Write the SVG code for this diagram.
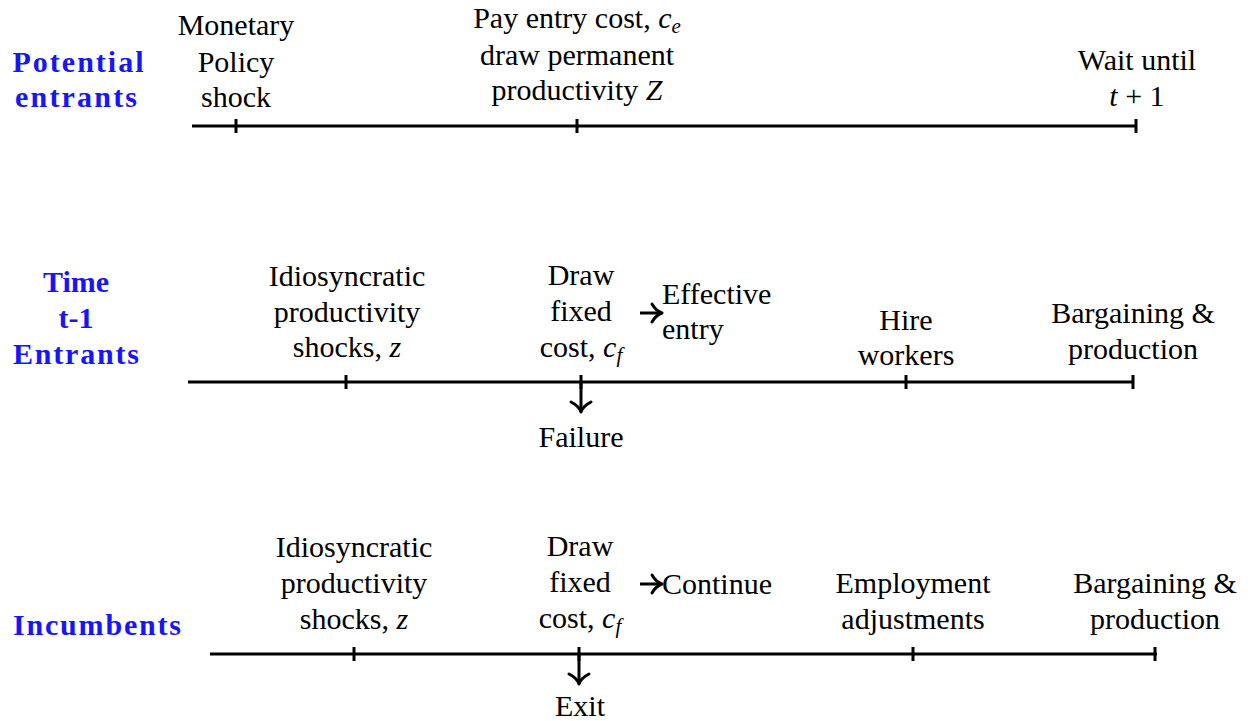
<svg xmlns="http://www.w3.org/2000/svg" width="1248" height="721" viewBox="0 0 1248 721">
<style>
.t{font-size:30px;fill:#000;text-anchor:middle}
.l{text-anchor:start}
.h{font-size:30px;font-weight:bold;fill:#1515ff;text-anchor:middle}
.i{font-style:italic}
.line{stroke:#000;stroke-width:3;fill:none}
.head{stroke:#000;stroke-width:3;fill:none;stroke-linecap:round;stroke-linejoin:round}
</style>
<rect width="1248" height="721" fill="#fff"/>
<g id="connectors">
  <line class="line" x1="192" y1="126" x2="1137" y2="126"/>
  <line class="line" x1="236" y1="119" x2="236" y2="133"/>
  <line class="line" x1="577" y1="119" x2="577" y2="133"/>
  <line class="line" x1="1136" y1="119" x2="1136" y2="133"/>

  <line class="line" x1="188" y1="382" x2="1134" y2="382"/>
  <line class="line" x1="346" y1="375" x2="346" y2="389"/>
  <line class="line" x1="581" y1="375" x2="581" y2="389"/>
  <line class="line" x1="906" y1="375" x2="906" y2="389"/>
  <line class="line" x1="1133" y1="375" x2="1133" y2="389"/>
  <line class="line" x1="581" y1="382" x2="581" y2="411"/>
  <path class="head" d="M571,402 Q579,406 581,412 Q583,406 591,402"/>
  <line class="line" x1="640" y1="313" x2="661" y2="313"/>
  <path class="head" d="M652,304 Q656,311 662,313 Q656,315 652,322"/>

  <line class="line" x1="210" y1="654" x2="1157" y2="654"/>
  <line class="line" x1="354" y1="647" x2="354" y2="661"/>
  <line class="line" x1="579" y1="647" x2="579" y2="661"/>
  <line class="line" x1="913" y1="647" x2="913" y2="661"/>
  <line class="line" x1="1155" y1="647" x2="1155" y2="661"/>
  <line class="line" x1="579" y1="654" x2="579" y2="683"/>
  <path class="head" d="M569,674 Q577,678 579,684 Q581,678 589,674"/>
  <line class="line" x1="640" y1="584" x2="661" y2="584"/>
  <path class="head" d="M652,575 Q656,582 662,584 Q656,586 652,593"/>
</g>
<g font-family="Liberation Serif, serif">
<g id="label-potential">
  <text class="h" x="78" y="72" textLength="131">Potential</text>
  <text class="h" x="76" y="107" textLength="122">entrants</text>
</g>
<g id="node-monetary">
  <text class="t" x="236" y="35">Monetary</text>
  <text class="t" x="236" y="72">Policy</text>
  <text class="t" x="236" y="107">shock</text>
</g>
<g id="node-entry">
  <text class="t" x="577" y="28">Pay entry cost, <tspan class="i">c</tspan><tspan class="i" font-size="21" dy="5">e</tspan></text>
  <text class="t" x="577" y="65">draw permanent</text>
  <text class="t" x="577" y="100">productivity <tspan class="i">Z</tspan></text>
</g>
<g id="node-wait">
  <text class="t" x="1137" y="70">Wait until</text>
  <text class="t" x="1137" y="106"><tspan class="i">t</tspan> + 1</text>
</g>

<g id="label-time">
  <text class="h" x="76" y="292">Time</text>
  <text class="h" x="76" y="328">t-1</text>
  <text class="h" x="76" y="364" textLength="126">Entrants</text>
</g>
<g id="node-idio1">
  <text class="t" x="347" y="286">Idiosyncratic</text>
  <text class="t" x="347" y="322">productivity</text>
  <text class="t" x="347" y="357">shocks, <tspan class="i">z</tspan></text>
</g>
<g id="node-draw1">
  <text class="t" x="581" y="285">Draw</text>
  <text class="t" x="581" y="321">fixed</text>
  <text class="t" x="581" y="357">cost, <tspan class="i">c</tspan><tspan class="i" font-size="21" dy="5">f</tspan></text>
</g>
<g id="node-effective">
  <text class="t l" x="662" y="304">Effective</text>
  <text class="t l" x="662" y="339">entry</text>
</g>
<g id="node-hire">
  <text class="t" x="906" y="330">Hire</text>
  <text class="t" x="906" y="365">workers</text>
</g>
<g id="node-bargain1">
  <text class="t" x="1133" y="323">Bargaining &amp;</text>
  <text class="t" x="1133" y="359">production</text>
</g>
<g id="node-failure">
  <text class="t" x="581" y="447">Failure</text>
</g>

<g id="label-incumbents">
  <text class="h" x="97" y="635" textLength="168">Incumbents</text>
</g>
<g id="node-idio2">
  <text class="t" x="354" y="557">Idiosyncratic</text>
  <text class="t" x="354" y="593">productivity</text>
  <text class="t" x="354" y="629">shocks, <tspan class="i">z</tspan></text>
</g>
<g id="node-draw2">
  <text class="t" x="580" y="556">Draw</text>
  <text class="t" x="580" y="592">fixed</text>
  <text class="t" x="580" y="628">cost, <tspan class="i">c</tspan><tspan class="i" font-size="21" dy="5">f</tspan></text>
</g>
<g id="node-continue">
  <text class="t l" x="662" y="594">Continue</text>
</g>
<g id="node-employment">
  <text class="t" x="913" y="593">Employment</text>
  <text class="t" x="913" y="629">adjustments</text>
</g>
<g id="node-bargain2">
  <text class="t" x="1155" y="593">Bargaining &amp;</text>
  <text class="t" x="1155" y="629">production</text>
</g>
<g id="node-exit">
  <text class="t" x="580" y="716">Exit</text>
</g>
</g>
</svg>
